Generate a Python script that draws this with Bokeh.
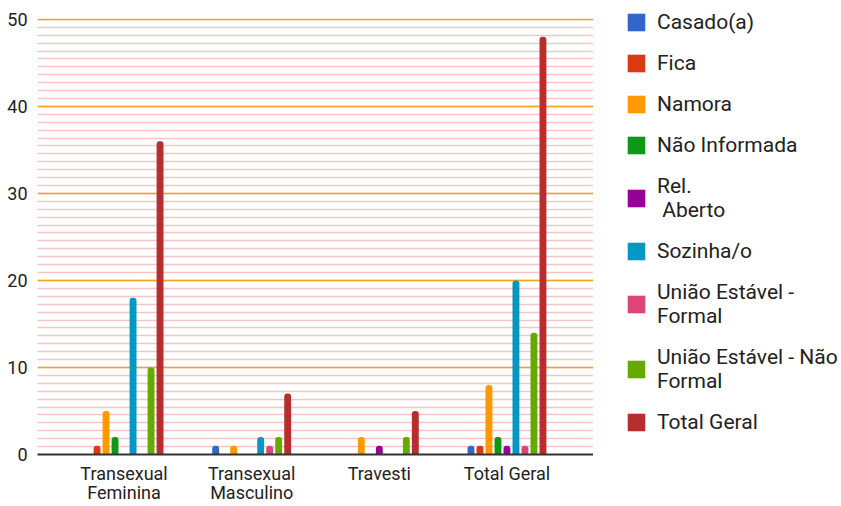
from bokeh.plotting import figure
from bokeh.layouts import row
from bokeh.models import FactorRange, Legend, LegendItem, ColumnDataSource, SingleIntervalTicker, Range1d
from bokeh.transform import dodge
from bokeh.embed import file_html
from bokeh.resources import INLINE

groups = ["Transexual\nFeminina", "Transexual\nMasculino", "Travesti", "Total Geral"]
series_names = ["Casado(a)", "Fica", "Namora", "Não Informada", "Rel.\n Aberto", "Sozinha/o",
                "União Estável -\nFormal", "União Estável - Não\nFormal", "Total Geral"]
casado = [0, 1, 0, 1]
fica = [1, 0, 0, 1]
namora = [5, 1, 2, 8]
nao_informada = [2, 0, 0, 2]
rel_aberto = [0, 0, 1, 1]
sozinha = [18, 2, 0, 20]
uniao_formal = [0, 1, 0, 1]
uniao_nao_formal = [10, 2, 2, 14]
total_geral = [36, 7, 5, 48]
colors = ["#3366cc", "#dc3912", "#ff9900", "#109618", "#990099", "#0099c6", "#dd4477", "#66aa00", "#b82e2e"]

values = [casado, fica, namora, nao_informada, rel_aberto, sozinha, uniao_formal, uniao_nao_formal, total_geral]
keys = ["s%d" % i for i in range(len(values))]
data = {"g": groups}
for k, v in zip(keys, values):
    data[k] = v
src = ColumnDataSource(data)

FONT = "Roboto"
TXT = "#222222"

# ---- main chart ----
p = figure(width=593, height=506, output_backend="svg", toolbar_location=None,
           x_range=FactorRange(*groups, range_padding=0.089), y_range=Range1d(0, 50.1),
           min_border_left=37, min_border_right=0, min_border_top=18, min_border_bottom=51)
p.outline_line_color = None
p.background_fill_color = "white"
p.border_fill_color = "white"
p.frame_align = False

step = 0.0705
for i, (k, c) in enumerate(zip(keys, colors)):
    p.vbar(x=dodge("g", (i - 4) * step, range=p.x_range), top=k, bottom=0, width=0.054,
           source=src, fill_color=c, line_color=None, border_radius=(3, 3, 0, 0))

p.yaxis.ticker = SingleIntervalTicker(interval=10, num_minor_ticks=11)
p.yaxis.axis_line_color = None
p.yaxis.major_tick_line_color = None
p.yaxis.major_tick_out = 0
p.yaxis.minor_tick_line_color = None
p.yaxis.minor_tick_out = 0
p.yaxis.major_label_text_font = FONT
p.yaxis.major_label_text_font_size = "18px"
p.yaxis.major_label_text_color = TXT
p.yaxis.major_label_standoff = 10

p.xaxis.axis_line_color = "#333333"
p.xaxis.axis_line_width = 2
p.xaxis.major_tick_line_color = None
p.xaxis.major_tick_out = 0
p.xaxis.minor_tick_line_color = None
p.xaxis.minor_tick_out = 0
p.xaxis.major_label_text_font = FONT
p.xaxis.major_label_text_font_size = "18px"
p.xaxis.major_label_text_color = TXT
p.xaxis.major_label_standoff = 8
p.xaxis.major_label_text_line_height = 0.95

p.xgrid.grid_line_color = None
p.ygrid.grid_line_color = "#f6a21e"
p.ygrid.grid_line_width = 1.5
p.ygrid.minor_grid_line_color = "#f2c6c6"
p.ygrid.minor_grid_line_width = 1.5

# ---- legend panel ----
lg = figure(width=248, height=506, output_backend="svg", toolbar_location=None,
            x_range=FactorRange(*groups), y_range=Range1d(0, 50),
            x_axis_type=None, y_axis_type=None,
            min_border_left=0, min_border_right=0, min_border_top=0, min_border_bottom=0)
lg.title.visible = False
lg.grid.visible = False
lg.outline_line_color = None
lg.background_fill_color = "white"
lg.border_fill_color = "white"
lg.frame_align = False

items = []
for i, (k, name, c) in enumerate(zip(keys, series_names, colors)):
    r = lg.vbar(x=dodge("g", (i - 4) * step, range=lg.x_range), top=k, bottom=0, width=0.054,
                source=src, fill_color=c, line_color=None, visible=False)
    items.append(LegendItem(label=name, renderers=[r]))

legend = Legend(items=items, location=(32, 72), padding=0, margin=0, border_line_color=None,
                background_fill_alpha=0, glyph_width=22, glyph_height=22, label_standoff=10,
                spacing=17, label_text_font=FONT, label_text_font_size="21px",
                label_text_color=TXT, label_text_line_height=1.2)
lg.add_layout(legend, "center")

layout = row(p, lg)
open("out.html", "w").write(file_html(layout, INLINE))
